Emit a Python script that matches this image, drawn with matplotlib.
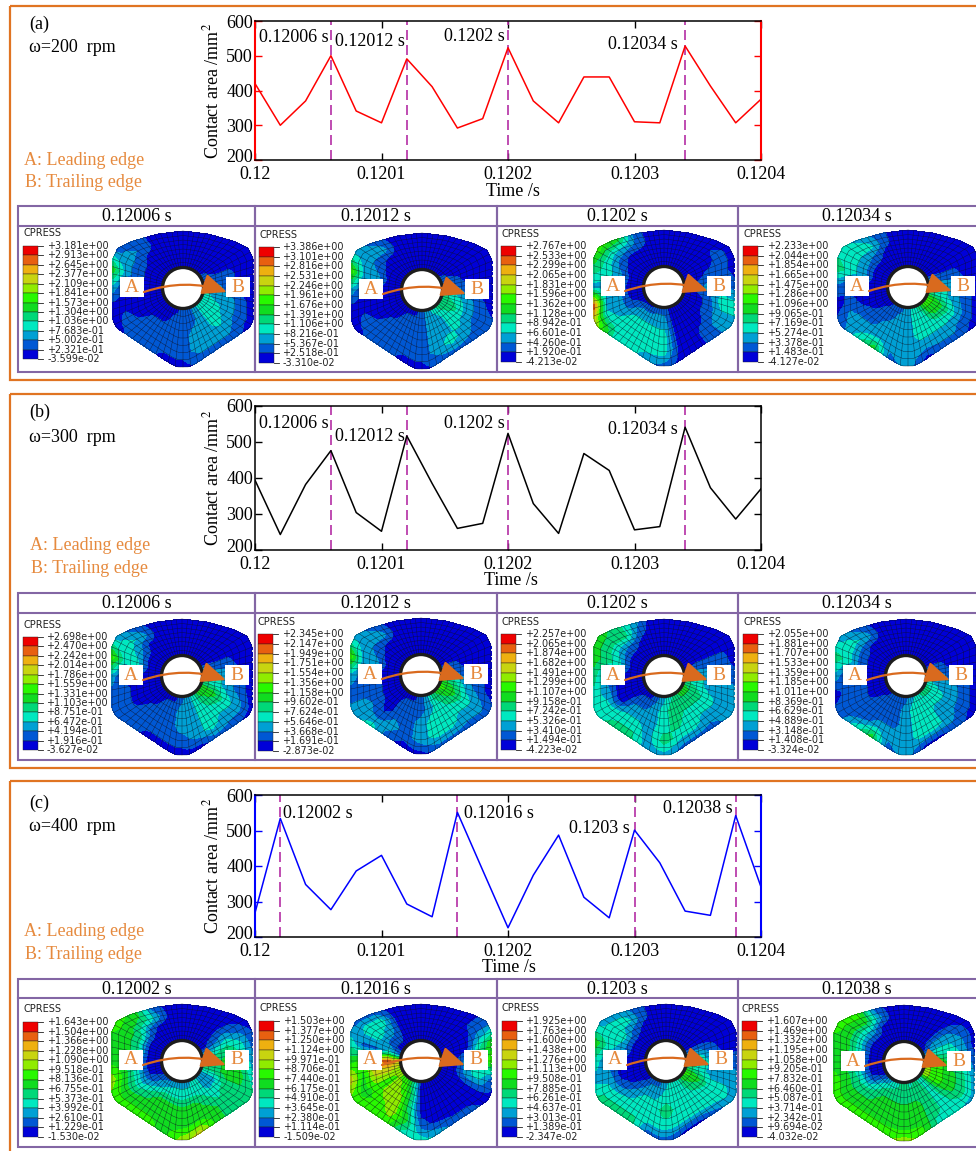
import numpy as np
import matplotlib
matplotlib.use("Agg")
import matplotlib.pyplot as plt
from matplotlib.patches import Rectangle, Circle, FancyArrowPatch
from matplotlib.transforms import ScaledTranslation

plt.rcParams['font.family'] = ['Liberation Serif', 'DejaVu Sans']
plt.rcParams['mathtext.fontset'] = 'stix'

W, H = 976, 1151

# ---- chart data ----
time = [0.12 + i * 0.00002 for i in range(21)]
area_a = [420, 300, 370, 500, 341, 307, 491, 411, 292, 319, 523, 370, 307, 439, 439, 310, 307, 528, 413, 307, 375]
area_b = [394, 243, 382, 476, 304, 252, 517, 385, 260, 274, 524, 329, 246, 468, 421, 256, 265, 541, 373, 286, 370]
area_c = [268, 534, 348, 277, 386, 430, 293, 257, 551, 388, 226, 374, 487, 312, 254, 501, 409, 273, 261, 542, 341]
marks_a = [0.12006, 0.12012, 0.1202, 0.12034]
marks_b = [0.12006, 0.12012, 0.1202, 0.12034]
marks_c = [0.12002, 0.12016, 0.1203, 0.12038]
xticks = [0.12, 0.1201, 0.1202, 0.1203, 0.1204]
xtick_labels = ['0.12', '0.1201', '0.1202', '0.1203', '0.1204']
yticks = [200, 300, 400, 500, 600]
titles_a = ['0.12006 s', '0.12012 s', '0.1202 s', '0.12034 s']
titles_b = ['0.12006 s', '0.12012 s', '0.1202 s', '0.12034 s']
titles_c = ['0.12002 s', '0.12016 s', '0.1203 s', '0.12038 s']

# ---- CPRESS legends, top to bottom ----
legend_a = [
    "+3.181e+00 +2.913e+00 +2.645e+00 +2.377e+00 +2.109e+00 +1.841e+00 +1.573e+00 +1.304e+00 +1.036e+00 +7.683e-01 +5.002e-01 +2.321e-01 -3.599e-02",
    "+3.386e+00 +3.101e+00 +2.816e+00 +2.531e+00 +2.246e+00 +1.961e+00 +1.676e+00 +1.391e+00 +1.106e+00 +8.216e-01 +5.367e-01 +2.518e-01 -3.310e-02",
    "+2.767e+00 +2.533e+00 +2.299e+00 +2.065e+00 +1.831e+00 +1.596e+00 +1.362e+00 +1.128e+00 +8.942e-01 +6.601e-01 +4.260e-01 +1.920e-01 -4.213e-02",
    "+2.233e+00 +2.044e+00 +1.854e+00 +1.665e+00 +1.475e+00 +1.286e+00 +1.096e+00 +9.065e-01 +7.169e-01 +5.274e-01 +3.378e-01 +1.483e-01 -4.127e-02",
]
legend_b = [
    "+2.698e+00 +2.470e+00 +2.242e+00 +2.014e+00 +1.786e+00 +1.559e+00 +1.331e+00 +1.103e+00 +8.751e-01 +6.472e-01 +4.194e-01 +1.916e-01 -3.627e-02",
    "+2.345e+00 +2.147e+00 +1.949e+00 +1.751e+00 +1.554e+00 +1.356e+00 +1.158e+00 +9.602e-01 +7.624e-01 +5.646e-01 +3.668e-01 +1.691e-01 -2.873e-02",
    "+2.257e+00 +2.065e+00 +1.874e+00 +1.682e+00 +1.491e+00 +1.299e+00 +1.107e+00 +9.158e-01 +7.242e-01 +5.326e-01 +3.410e-01 +1.494e-01 -4.223e-02",
    "+2.055e+00 +1.881e+00 +1.707e+00 +1.533e+00 +1.359e+00 +1.185e+00 +1.011e+00 +8.369e-01 +6.629e-01 +4.889e-01 +3.148e-01 +1.408e-01 -3.324e-02",
]
legend_c = [
    "+1.643e+00 +1.504e+00 +1.366e+00 +1.228e+00 +1.090e+00 +9.518e-01 +8.136e-01 +6.755e-01 +5.373e-01 +3.992e-01 +2.610e-01 +1.229e-01 -1.530e-02",
    "+1.503e+00 +1.377e+00 +1.250e+00 +1.124e+00 +9.971e-01 +8.706e-01 +7.440e-01 +6.175e-01 +4.910e-01 +3.645e-01 +2.380e-01 +1.114e-01 -1.509e-02",
    "+1.925e+00 +1.763e+00 +1.600e+00 +1.438e+00 +1.276e+00 +1.113e+00 +9.508e-01 +7.885e-01 +6.261e-01 +4.637e-01 +3.013e-01 +1.389e-01 -2.347e-02",
    "+1.607e+00 +1.469e+00 +1.332e+00 +1.195e+00 +1.058e+00 +9.205e-01 +7.832e-01 +6.460e-01 +5.087e-01 +3.714e-01 +2.342e-01 +9.694e-02 -4.032e-02",
]
bands = ['#0000D8', '#0058D4', '#00A0D4', '#00E8C0', '#00D878', '#10DC20',
         '#28F800', '#90EC00', '#C8D410', '#EEB010', '#E86010', '#EE0000']

# pressure band: rings inner to outer,
# 24 sectors anticlockwise from the right hand side (groups start E, N, W, S)
map_a1 = ["211000 000000 000000 112333", "210000 000000 000001 112332", "110000 000011 000111 122322",
          "000000 000122 001111 122211", "000000 000115 200110 011100"]
map_a2 = ["211000 000000 000000 123444", "210000 000000 000011 122343", "100000 000012 000111 122322",
          "000000 000222 001111 123211", "000000 000126 200110 011110"]
map_a3 = ["000000 000000 000001 100000", "100000 000000 001222 200000", "210000 000012 122333 300011",
          "211000 001233 223333 300123", "100000 001564 2a7332 100123"]
map_a4 = ["420000 000000 000011 234664", "310000 000000 000112 233553", "210000 000122 001122 233332",
          "100000 001333 012222 222211", "000000 001234 101351 201100"]
map_b1 = ["320000 000000 000000 123554", "310000 000000 000011 223453", "210000 000023 000111 223332",
          "100000 000233 011111 123221", "000000 000126 211100 001100"]
map_b2 = ["210000 000000 000000 124565", "210000 000000 000011 123454", "100000 000012 011011 233332",
          "100000 000222 112121 233221", "000000 000126 212310 011110"]
map_b3 = ["300000 000000 000001 234554", "310000 000000 000112 344443", "210000 000123 000222 343332",
          "110000 001444 123332 433222", "100000 002455 433442 211122"]
map_b4 = ["210000 000000 000011 123443", "210000 000000 000111 233332", "100000 000011 011111 233222",
          "100000 000233 011122 233211", "000000 000124 201351 200100"]
map_c1 = ["320000 000000 000112 223224", "431000 000000 001233 333224", "542000 000144 233455 554345",
          "431000 002455 555555 555445", "210000 001565 576665 785443"]
map_c2 = ["000000 000001 877653 000000", "000000 000113 a86764 000000", "200000 000231 986774 000002",
          "431000 000331 655675 100003", "651000 000113 586663 321101"]
map_c3 = ["420000 000000 000011 233564", "420000 000000 000122 333453", "210000 000132 001233 433332",
          "100000 001333 123333 333332", "100000 001225 324441 100122"]
map_c4 = ["620000 000000 000123 434277", "632000 000000 001344 444366", "432000 000233 234455 554355",
          "321000 002555 455555 554344", "100000 001665 566666 763322"]

# ---- layout, all in pixels of the 976x1151 picture ----
ORANGE = '#E07422'
LABEL_ORANGE = '#E68A3E'
PURPLE = '#8366A4'
DASH = '#B42EA4'

outline = np.array([(-70, 30), (-65, 40), (-50, 47), (-25, 54), (0, 57), (25, 54), (50, 47), (65, 40), (70, 30),
                    (70, -33), (66, -40), (12, -76), (5, -79), (-5, -79), (-12, -76), (-66, -40), (-70, -33), (-70, 30)], float)


def outline_radius(th):
    # dense points along the outline, radius as a function of the angle
    px, py = [], []
    for (x0, y0), (x1, y1) in zip(outline[:-1], outline[1:]):
        px.extend(np.linspace(x0, x1, 40))
        py.extend(np.linspace(y0, y1, 40))
    px, py = np.array(px), np.array(py)
    ang = np.mod(np.arctan2(py, px), 2 * np.pi)
    order = np.argsort(ang)
    return np.interp(th, ang[order], np.hypot(px, py)[order], period=2 * np.pi)


def draw_map(ax, cx, cy, rows):
    grid = np.array([[int(c, 16) + 0.5 for c in r.replace(' ', '')] for r in rows])
    th = np.linspace(0, 2 * np.pi, 385)
    frac = np.linspace(0, 1, 25)
    node_th = np.arange(24) * 2 * np.pi / 24
    by_ring = np.array([np.interp(th, node_th, g, period=2 * np.pi) for g in grid])
    Z = np.array([[np.interp(f, np.linspace(0, 1, 5), by_ring[:, j]) for j in range(len(th))] for f in frac])
    R = outline_radius(th)
    r = 21 + frac[:, None] * (R - 21)
    X = cx + r * np.cos(th)
    Y = cy - r * np.sin(th)
    ax.contourf(X, Y, Z, levels=np.arange(13), colors=bands, zorder=2)
    # element mesh
    for i in range(3, 25, 3):
        ax.plot(X[i], Y[i], color='#101020', lw=0.35, alpha=0.75, zorder=3)
    for j in range(0, 384, 6):
        ax.plot(X[:, j], Y[:, j], color='#101020', lw=0.35, alpha=0.75, zorder=3)
    ax.add_patch(Circle((cx, cy), 20.5, fc='white', ec='#1c1c1c', lw=2.4, zorder=4))
    # A -> B marker
    for dx, letter in [(-51, 'A'), (55, 'B')]:
        ax.add_patch(Rectangle((cx + dx - 12, cy - 11), 24, 20, fc='white', ec='none', zorder=5))
        ax.text(cx + dx, cy - 1, letter, color=LABEL_ORANGE, fontsize=14, ha='center', va='center', zorder=6)
    ax.add_patch(FancyArrowPatch((cx - 39, cy + 4), (cx + 44, cy + 4), connectionstyle='arc3,rad=-0.17',
                                 arrowstyle='-|>,head_length=0.75,head_width=0.32', mutation_scale=20,
                                 color='#D96A1E', lw=1.6, shrinkA=0, shrinkB=0, zorder=7))


def draw_legend(ax, x, top, bottom, lab_x, cp_y, labels):
    ax.text(x, cp_y, 'CPRESS', family='DejaVu Sans', fontsize=7, color='#222222', ha='left', va='center')
    ys = np.linspace(top, bottom, 13)
    for i, lab in enumerate(labels.split()):
        if i < 12:
            ax.add_patch(Rectangle((x, ys[i]), 15, ys[i + 1] - ys[i], fc=bands[11 - i], ec='#202020', lw=0.3))
        ax.plot([x + 15, x + 20], [ys[i], ys[i]], color='#202020', lw=0.6)
        ax.text(lab_x, ys[i], lab, family='DejaVu Sans', fontsize=6.9, color='#222222', ha='left', va='center')


def draw_chart(box, series, color, marks, spine_w=1.5):
    l, t, r, b = box
    ax = fig.add_axes([l / W, 1 - b / H, (r - l) / W, (b - t) / H])
    for m in marks:
        ax.plot([m, m], [200, 600], color=DASH, lw=1.2, dashes=(6, 3), zorder=2)
    ax.plot(time, series, color=color, lw=1.1, zorder=3)
    ax.set_xlim(0.12, 0.1204)
    ax.set_ylim(200, 600)
    ax.set_xticks(xticks)
    ax.set_xticklabels(xtick_labels)
    ax.set_yticks(yticks)
    ax.tick_params(axis='both', direction='in', length=5, width=1, labelsize=13)
    ax.tick_params(axis='y', left=True, right=True, color=color, pad=1.5)
    ax.tick_params(axis='x', top=True, color='black', pad=4)
    # the lowest y label sits a little above the axis, clear of the first x label
    low = ax.get_yticklabels()[0]
    low.set_transform(low.get_transform() + ScaledTranslation(0, 3 / 72, fig.dpi_scale_trans))
    for s in ['top', 'bottom']:
        ax.spines[s].set_linewidth(1.1)
    for s in ['left', 'right']:
        ax.spines[s].set_color(color)
        ax.spines[s].set_linewidth(spine_w)
    return ax


fig = plt.figure(figsize=(W / 100, H / 100), dpi=100, facecolor='white')

# the three line charts
draw_chart((255, 21, 761, 160), area_a, '#FF0000', marks_a)
draw_chart((255, 406, 761, 550), area_b, '#000000', marks_b, spine_w=1.1)
draw_chart((255, 795, 761, 937), area_c, '#0000FF', marks_c)

# everything else lives on a full page overlay in pixel units
ov = fig.add_axes([0, 0, 1, 1], zorder=5)
ov.patch.set_alpha(0)
ov.set_axis_off()
ov.set_xlim(0, W)
ov.set_ylim(H, 0)

# orange panels
for top, bottom in [(6, 380), (394, 768), (781, 1160)]:
    ov.add_patch(Rectangle((10, top), 1000, bottom - top, fc='none', ec=ORANGE, lw=1.6))

# panel texts
panel_text = [('(a)', 'ω=200  rpm', 24, 47, 160, 182, 24),
              ('(b)', 'ω=300  rpm', 412, 437, 545, 568, 30),
              ('(c)', 'ω=400  rpm', 803, 826, 931, 954, 24)]
for tag, speed, y0, y1, y2, y3, xa in panel_text:
    ov.text(29, y0, tag, fontsize=13, va='center')
    ov.text(29, y1, speed, fontsize=13, va='center')
    ov.text(xa, y2, 'A: Leading edge', fontsize=13, color=LABEL_ORANGE, va='center')
    ov.text(xa + 1, y3, 'B: Trailing edge', fontsize=13, color=LABEL_ORANGE, va='center')

# y and x titles of the charts
for yc, tx, ty in [(91, 513, 191), (478, 511, 580), (866, 509, 967)]:
    ov.text(212, yc, 'Contact area /mm$^2$', fontsize=13, rotation=90, ha='center', va='center')
    ov.text(tx, ty, 'Time /s', fontsize=13, ha='center', va='center')

# peak time notes
notes = [(titles_a, [(259, 37), (335, 41), (444, 36), (608, 44)]),
         (titles_b, [(259, 423), (335, 436), (444, 423), (608, 429)]),
         (titles_c, [(283, 813), (464, 813), (569, 828), (663, 808)])]
for labels, spots in notes:
    for lab, (x, y) in zip(labels, spots):
        ov.text(x, y, lab, fontsize=13, ha='left', va='center', zorder=8)

# tables of contour maps
cols = [18, 255, 497, 738, 1000]
rows = [
    (206, 226, 372, 216, titles_a, legend_a, [map_a1, map_a2, map_a3, map_a4],
     [(183, 288), (422, 290), (664, 287), (908, 287)],
     [(23, 246, 359, 48, 233), (259, 247, 363, 283, 235), (501, 246, 362, 526, 234), (743, 246, 362, 768, 234)]),
    (593, 613, 760, 603, titles_b, legend_b, [map_b1, map_b2, map_b3, map_b4],
     [(182, 676), (421, 675), (664, 676), (906, 676)],
     [(23, 637, 750, 47, 625), (258, 634, 751, 283, 622), (501, 634, 750, 526, 622), (743, 634, 750, 768, 622)]),
    (979, 998, 1147, 989, titles_c, legend_c, [map_c1, map_c2, map_c3, map_c4],
     [(182, 1061), (421, 1061), (666, 1061), (904, 1062)],
     [(23, 1022, 1137, 48, 1009), (259, 1021, 1137, 284, 1008), (502, 1021, 1137, 526, 1008), (742, 1021, 1137, 767, 1009)]),
]
for top, head, bottom, text_y, titles, legends, maps, centers, spots in rows:
    for i in range(4):
        x0, x1 = cols[i], cols[i + 1]
        ov.add_patch(Rectangle((x0, top), x1 - x0, bottom - top, fc='none', ec=PURPLE, lw=1.5, zorder=9))
        ov.plot([x0, x1], [head, head], color=PURPLE, lw=1.5, zorder=9)
        ov.text((x0 + min(x1, 976)) / 2, text_y, titles[i], fontsize=13, ha='center', va='center')
        draw_map(ov, centers[i][0], centers[i][1], maps[i])
        x, ltop, lbot, lab_x, cp_y = spots[i]
        draw_legend(ov, x, ltop, lbot, lab_x, cp_y, legends[i])

ov.set_xlim(0, W)
ov.set_ylim(H, 0)
fig.savefig('out.png', dpi=100)
